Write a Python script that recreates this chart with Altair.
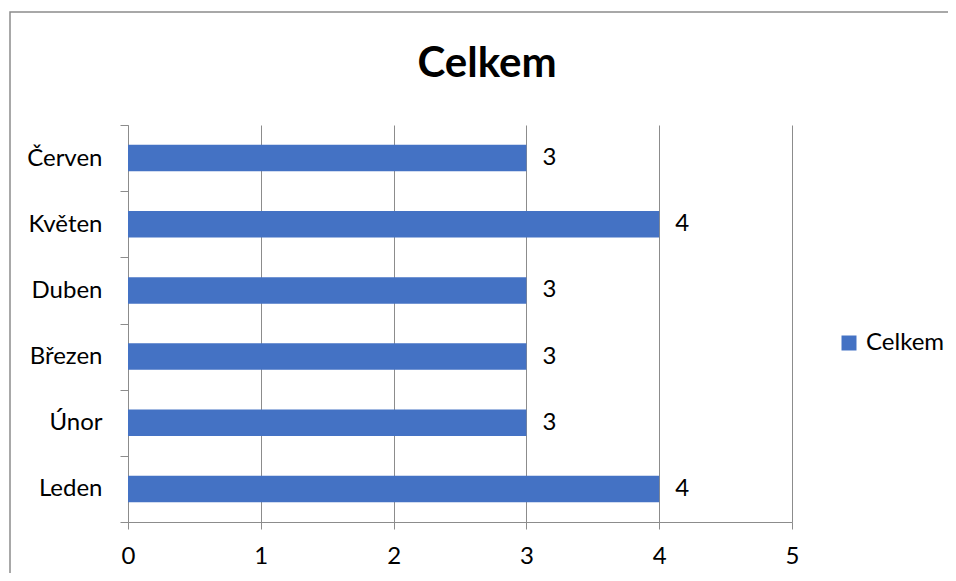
import altair as alt
import pandas as pd

months = ["Červen", "Květen", "Duben", "Březen", "Únor", "Leden"]
values = [3, 4, 3, 3, 3, 4]
series_name = "Celkem"
x_ticks = [0, 1, 2, 3, 4, 5]

df = pd.DataFrame({"month": months, "value": values, "series": [series_name] * len(months)})

W, H = 664, 397
FONT = "Lato"
GRAY = "#8c8c8c"
BLUE = "#4472C4"
FS = 24

y_enc = alt.Y(
    "month:N",
    sort=months,
    scale=alt.Scale(paddingInner=0, paddingOuter=0),
    axis=alt.Axis(
        title=None, tickBand="extent", labelFont=FONT, labelFontSize=FS,
        labelColor="black", labelPadding=18, tickSize=8, tickColor=GRAY,
        domainColor=GRAY, grid=False,
    ),
)
x_enc = alt.X(
    "value:Q",
    scale=alt.Scale(domain=[0, 5], nice=False),
    axis=alt.Axis(
        title=None, values=x_ticks, format="d", grid=True, gridColor=GRAY,
        tickSize=7, tickColor=GRAY, domainColor=GRAY, labelFont=FONT,
        labelFontSize=FS, labelColor="black", labelPadding=15, labelFlush=False,
    ),
)

bars = alt.Chart(df).mark_bar(height=alt.RelativeBandSize(0.4)).encode(
    x=x_enc,
    y=y_enc,
    color=alt.Color(
        "series:N",
        scale=alt.Scale(range=[BLUE]),
        legend=alt.Legend(
            title=None, orient="none", legendX=709, legendY=206,
            symbolType="square", symbolSize=225, symbolStrokeWidth=0,
            labelFont=FONT, labelFontSize=FS, labelColor="black", labelOffset=5,
        ),
    ),
)

labels = alt.Chart(df).mark_text(
    align="left", baseline="middle", dx=16, font=FONT, fontSize=FS, color="black"
).encode(
    x="value:Q",
    y=alt.Y("month:N", sort=months),
    text="value:Q",
)

one = pd.DataFrame({"a": [0]})

frame = alt.Chart(one).mark_rect(fill=None, stroke=GRAY, strokeWidth=1.5).encode(
    x=alt.value(-118), x2=alt.value(W + 300), y=alt.value(-113), y2=alt.value(H + 200)
)

title = alt.Chart(one).mark_text(
    text=series_name, font=FONT, fontSize=42, fontWeight="bold",
    align="center", baseline="alphabetic", color="black",
).encode(x=alt.value(359), y=alt.value(-48))

chart = alt.layer(frame, bars, labels, title).properties(
    width=W, height=H,
    background="white",
    autosize=alt.AutoSizeParams(type="none"),
    padding={"left": 120, "top": 117, "right": 156, "bottom": 51},
).configure_view(stroke=None)

chart.save("out.html", embed_options={"renderer": "svg", "actions": False})
